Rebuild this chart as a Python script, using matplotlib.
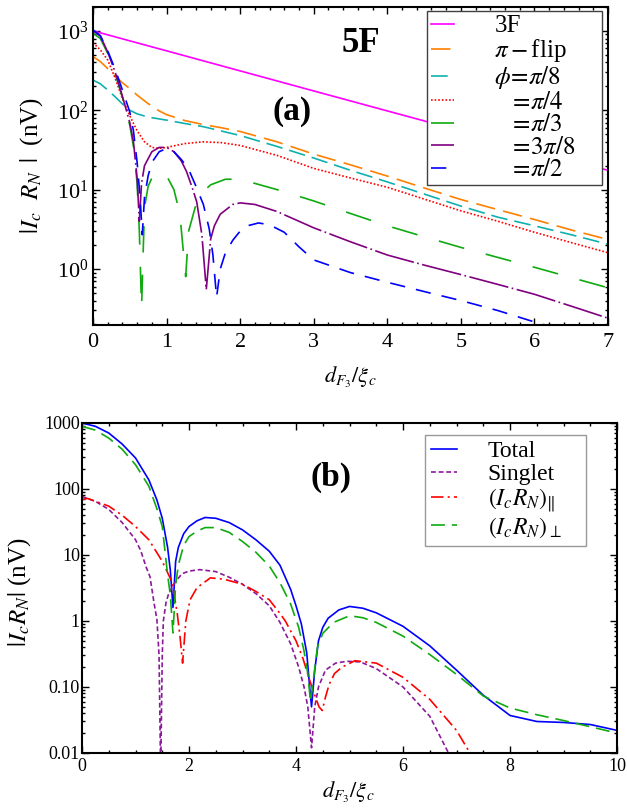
import matplotlib
matplotlib.use("Agg")
import matplotlib.pyplot as plt
import matplotlib.ticker as ticker

plt.rcParams["font.family"] = ["Liberation Serif", "DejaVu Serif"]
plt.rcParams["mathtext.fontset"] = "stix"
plt.rcParams["lines.scale_dashes"] = False

# ---------------- panel (a) data ----------------
x_3f = [0, 1, 2, 3, 4, 5, 6, 7]
y_3f = [1000, 560, 313, 175, 98, 55, 31, 17.5]

x_flip = [0, 0.1, 0.2, 0.3, 0.4, 0.5, 0.6, 0.75, 0.9, 1.0, 1.25, 1.5, 1.75, 2.0,
          2.5, 3.0, 3.5, 4.0, 4.5, 5.0, 5.5, 6.0, 6.5, 7.0]
y_flip = [473, 410, 335, 270, 222, 187, 155, 121, 98, 88, 74, 66, 60, 54,
          40, 28, 20.5, 14.8, 10.5, 7.5, 5.6, 4.2, 3.1, 2.35]

x_pi8 = [0, 0.1, 0.2, 0.3, 0.4, 0.5, 0.6, 0.75, 1.0, 1.25, 1.5, 2.0, 2.5, 3.0,
         3.5, 4.0, 4.5, 5.0, 5.5, 6.0, 6.5, 7.0]
y_pi8 = [240, 215, 180, 148, 120, 100, 90, 82, 75, 68, 62, 48, 35, 25,
         17.5, 12.5, 8.8, 6.2, 4.5, 3.5, 2.7, 2.05]

x_pi4 = [0, 0.1, 0.2, 0.3, 0.4, 0.5, 0.6, 0.7, 0.8, 0.9, 1.0, 1.25, 1.5, 1.75,
         2.0, 2.5, 3.0, 3.5, 4.0, 4.5, 5.0, 5.5, 6.0, 6.5, 7.0]
y_pi4 = [710, 575, 430, 255, 140, 85, 55, 40, 34, 33, 34, 38, 40, 39,
         36, 27, 18.5, 14, 10.7, 7.6, 5.4, 4.0, 2.9, 2.15, 1.6]

x_pi3 = [0, 0.1, 0.2, 0.3, 0.4, 0.5, 0.55, 0.6, 0.63, 0.66, 0.7, 0.75, 0.8, 0.9,
         1.0, 1.1, 1.18, 1.26, 1.3, 1.4, 1.5, 1.6, 1.8, 2.0, 2.5, 3.0, 3.5, 4.0,
         4.5, 5.0, 5.5, 6.0, 6.5, 7.0]
y_pi3 = [935, 800, 520, 290, 145, 65, 35, 12, 3, 0.32, 6, 11, 14, 17,
         15, 10, 5, 0.8, 3, 6.5, 9.5, 11.5, 13.5, 13.5, 10, 7.2, 5.0, 3.5,
         2.55, 1.87, 1.4, 1.05, 0.78, 0.58]

x_3pi8 = [0, 0.1, 0.2, 0.3, 0.4, 0.5, 0.55, 0.6, 0.63, 0.66, 0.7, 0.8, 0.9, 1.0,
          1.1, 1.2, 1.27, 1.35, 1.41, 1.48, 1.54, 1.6, 1.65, 1.73, 1.9, 2.0, 2.2,
          2.5, 3.0, 3.5, 4.0, 4.5, 5.0, 5.5, 6.0, 6.5, 7.0]
y_3pi8 = [1000, 860, 540, 305, 150, 70, 40, 14, 4.0, 12, 20, 30, 34, 34,
          30, 23, 17, 10.5, 7.0, 2.7, 0.55, 2.4, 3.5, 4.9, 6.5, 6.8, 6.5,
          5.3, 3.3, 2.2, 1.5, 1.12, 0.85, 0.64, 0.48, 0.34, 0.24]

x_pi2 = [0, 0.1, 0.2, 0.3, 0.4, 0.5, 0.55, 0.6, 0.64, 0.67, 0.7, 0.75, 0.8, 0.9,
         1.0, 1.1, 1.2, 1.3, 1.4, 1.5, 1.58, 1.63, 1.68, 1.73, 1.8, 1.9, 2.0, 2.1,
         2.25, 2.4, 2.6, 2.8, 3.0, 3.5, 4.0, 4.5, 5.0, 5.5, 6.0, 6.5]
y_pi2 = [1030, 870, 560, 330, 180, 95, 55, 22, 8, 2.7, 8, 15, 22, 30,
         33, 30, 24, 18, 11, 6.5, 3.2, 1.5, 0.44, 1.0, 1.6, 2.3, 3.0, 3.5,
         3.8, 3.6, 2.9, 1.9, 1.3, 0.9, 0.68, 0.52, 0.40, 0.30, 0.215, 0.16]

# ---------------- panel (b) data ----------------
x_tot = [0, 0.25, 0.5, 0.75, 1.0, 1.25, 1.4, 1.5, 1.6, 1.65, 1.7, 1.75, 1.8, 1.9,
         2.0, 2.15, 2.3, 2.5, 2.75, 3.0, 3.25, 3.5, 3.7, 3.9, 4.0, 4.1, 4.2, 4.26,
         4.29, 4.35, 4.42, 4.5, 4.6, 4.8, 5.0, 5.25, 5.5, 6.0, 6.5, 7.0, 7.5, 8.0,
         8.5, 9.0, 9.5, 10]
y_tot = [1000, 890, 705, 480, 295, 137, 68, 36, 13, 5.9, 1.6, 8, 13, 21,
         27, 33, 37, 36, 31, 24, 17, 11.4, 7.0, 3.0, 1.7, 0.9, 0.33, 0.09,
         0.05, 0.18, 0.5, 0.8, 1.1, 1.47, 1.66, 1.56, 1.33, 0.83, 0.42, 0.18, 0.075, 0.037,
         0.030, 0.029, 0.027, 0.022]

x_sing = [0, 0.25, 0.5, 0.75, 1.0, 1.1, 1.2, 1.27, 1.35, 1.4, 1.44, 1.47, 1.5, 1.52,
          1.57, 1.62, 1.74, 1.87, 2.0, 2.2, 2.5, 2.75, 3.0, 3.25, 3.5, 3.7, 3.9, 4.05,
          4.15, 4.22, 4.29, 4.35, 4.42, 4.55, 4.74, 4.95, 5.2, 5.5, 6.0, 6.5, 6.85, 7.0]
y_sing = [77, 65, 49, 31, 17, 11.5, 6.5, 4.7, 1.8, 1.05, 0.3, 0.005, 0.3, 1.0,
          1.9, 2.6, 3.9, 5.2, 5.7, 6.0, 5.6, 4.6, 3.6, 2.6, 1.7, 0.95, 0.45, 0.2,
          0.1, 0.05, 0.012, 0.05, 0.1, 0.18, 0.23, 0.245, 0.24, 0.19, 0.10, 0.036, 0.01, 0.006]

x_par = [0, 0.1, 0.25, 0.5, 0.75, 1.0, 1.25, 1.5, 1.6, 1.68, 1.73, 1.78, 1.83, 1.88,
         1.94, 2.02, 2.15, 2.4, 2.65, 3.0, 3.25, 3.5, 3.7, 3.8, 4.0, 4.13, 4.25, 4.35,
         4.43, 4.49, 4.55, 4.62, 4.72, 4.86, 5.1, 5.5, 6.0, 6.5, 7.0, 7.25, 7.4]
y_par = [69, 72, 65, 55, 40, 27, 17, 8, 5.4, 3.9, 2.3, 1.3, 0.6, 0.23,
         1.0, 2.1, 3.2, 4.5, 4.3, 3.6, 2.8, 2.1, 1.3, 1.0, 0.5, 0.27, 0.13, 0.075,
         0.05, 0.044, 0.07, 0.11, 0.16, 0.2, 0.25, 0.23, 0.14, 0.065, 0.022, 0.01, 0.006]

x_perp = [0, 0.25, 0.5, 0.75, 1.0, 1.25, 1.4, 1.5, 1.6, 1.65, 1.7, 1.75, 1.8, 1.9,
          2.0, 2.15, 2.3, 2.5, 2.75, 3.0, 3.25, 3.5, 3.7, 3.9, 4.05, 4.15, 4.22, 4.27,
          4.33, 4.4, 4.5, 4.7, 5.0, 5.25, 5.5, 6.0, 6.5, 7.0, 7.5, 8.0, 8.5, 9.0, 9.5, 10]
y_perp = [890, 780, 590, 400, 233, 110, 50, 27, 5, 2.5, 0.66, 3.5, 7, 14,
          19, 23, 26, 26, 22, 16, 11, 6.8, 3.8, 1.8, 0.8, 0.35, 0.16, 0.06,
          0.14, 0.4, 0.65, 0.95, 1.2, 1.12, 0.95, 0.59, 0.31, 0.155, 0.073, 0.048, 0.038,
          0.031, 0.025, 0.020]

b_yticks = [0.01, 0.1, 1, 10, 100, 1000]
b_yticklabels = ["0.01", "0.10", "1", "10", "100", "1000"]

fig = plt.figure(figsize=(6.27, 8.08), dpi=100)
ax1 = fig.add_axes([0.1483, 0.5978, 0.8214, 0.3936])
ax2 = fig.add_axes([0.1308, 0.0681, 0.8533, 0.4084])

lw = 1.2
ax1.plot(x_3f, y_3f, color="#ff00ff", lw=lw, label="3F")
ax1.plot(x_flip, y_flip, color="#ff8000", lw=lw, dashes=(14, 6), label=r"$\pi-$flip")
ax1.plot(x_pi8, y_pi8, color="#10b0b0", lw=lw, dashes=(12, 5), label=r"$\phi\!=\!\pi/8$")
ax1.plot(x_pi4, y_pi4, color="#ff0000", lw=lw, dashes=(1.2, 1.4), label=r"$\ \ \,=\!\pi/4$")
ax1.plot(x_pi3, y_pi3, color="#10aa10", lw=lw, dashes=(19, 16), label=r"$\ \ \,=\!\pi/3$")
ax1.plot(x_3pi8, y_3pi8, color="#800080", lw=lw, dashes=(29, 2.5, 1.2, 2.5),
         label=r"$\ \ \,=\!3\pi/8$")
ax1.plot(x_pi2, y_pi2, color="#0000ff", lw=lw, dashes=(11, 8), label=r"$\ \ \,=\!\pi/2$")

ax1.set_yscale("log")
ax1.set_xlim(0, 7)
ax1.set_ylim(0.197, 2000)
ax1.xaxis.set_major_locator(ticker.MultipleLocator(1))
ax1.xaxis.set_minor_locator(ticker.MultipleLocator(0.2))
ax1.yaxis.set_major_locator(ticker.LogLocator(base=10, numticks=10))
ax1.yaxis.set_minor_locator(ticker.LogLocator(base=10, subs=range(2, 10), numticks=20))
ax1.yaxis.set_minor_formatter(ticker.NullFormatter())
ax1.tick_params(which="both", direction="in", top=True, right=True, labelsize=16, width=1.0)
ax1.tick_params(which="major", length=5)
ax1.tick_params(which="minor", length=2.5)
ax1.tick_params(axis="y", pad=3.5)
ax1.tick_params(axis="x", pad=6)
ax1.set_xlabel(r"$d_{F_3}/\xi_c$", fontsize=16)
ax1.set_ylabel(r"$|I_c\ \ R_N\ \,|$  (nV)", fontsize=18)
ax1.xaxis.set_label_coords(0.499, -0.126)
ax1.yaxis.set_label_coords(-0.093, 0.50)
ax1.text(0.52, 0.884, "5F", transform=ax1.transAxes, fontsize=25, fontweight="bold",
         ha="center", va="center")
ax1.text(0.386, 0.670, "(a)", transform=ax1.transAxes, fontsize=24, fontweight="bold",
         ha="center", va="center")
leg1 = ax1.legend(loc="upper left", bbox_to_anchor=(0.6485, 0.4, 0.3398, 0.587),
                  mode="expand", fontsize=18,
                  handlelength=0.95, handletextpad=1.6, labelspacing=0.0,
                  borderaxespad=0, borderpad=0.15, fancybox=False, framealpha=1,
                  edgecolor="0.25")
leg1.get_frame().set_linewidth(1.0)

ax2.plot(x_tot, y_tot, color="#0000ff", lw=lw, label="Total")
ax2.plot(x_sing, y_sing, color="#8b1a9b", lw=lw, dashes=(3.5, 2), label="Singlet")
ax2.plot(x_par, y_par, color="#ff0000", lw=lw, dashes=(9, 3, 1.5, 3), label=r"$(I_c R_N)_{\|}$")
ax2.plot(x_perp, y_perp, color="#10aa10", lw=lw, dashes=(10, 5), label=r"$(I_c R_N)_{\perp}$")

ax2.set_yscale("log")
ax2.set_xlim(0, 10)
ax2.set_ylim(0.01, 1000)
ax2.xaxis.set_major_locator(ticker.MultipleLocator(2))
ax2.xaxis.set_minor_locator(ticker.MultipleLocator(0.5))
ax2.yaxis.set_major_locator(ticker.FixedLocator(b_yticks))
ax2.yaxis.set_major_formatter(ticker.FixedFormatter(b_yticklabels))
ax2.yaxis.set_minor_locator(ticker.LogLocator(base=10, subs=range(2, 10), numticks=20))
ax2.yaxis.set_minor_formatter(ticker.NullFormatter())
ax2.tick_params(which="both", direction="in", top=True, right=True, labelsize=13, width=1.0)
ax2.tick_params(which="major", length=5)
ax2.tick_params(which="minor", length=2.5)
ax2.tick_params(axis="y", pad=1.5)
ax2.tick_params(axis="x", pad=3.5)
ax2.set_xlabel(r"$d_{F_3}/\xi_c$", fontsize=16)
ax2.set_ylabel(r"$|I_c R_N|$ (nV)", fontsize=18)
ax2.xaxis.set_label_coords(0.497, -0.082)
ax2.yaxis.set_label_coords(-0.092, 0.488)
ax2.text(0.465, 0.836, "(b)", transform=ax2.transAxes, fontsize=24, fontweight="bold",
         ha="center", va="center")
leg2 = ax2.legend(loc="upper left", bbox_to_anchor=(0.641, 0.5, 0.301, 0.4636),
                  mode="expand", fontsize=17,
                  handlelength=1.1, handletextpad=1.3, labelspacing=0.05,
                  borderaxespad=0, borderpad=0.25, fancybox=False, framealpha=1,
                  edgecolor="0.6")
leg2.get_frame().set_linewidth(1.0)

for ax in (ax1, ax2):
    for s in ax.spines.values():
        s.set_linewidth(1.5)

fig.savefig("out.png", dpi=100)
